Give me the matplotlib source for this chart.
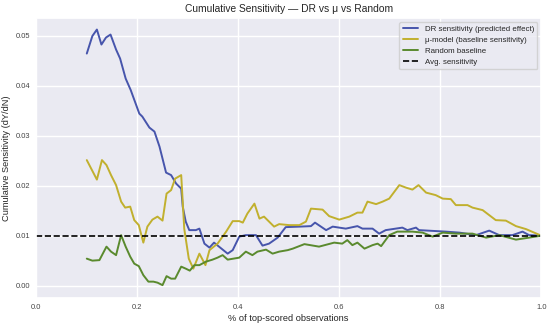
import numpy as np
import matplotlib
matplotlib.use("Agg")
import matplotlib.pyplot as plt
import seaborn as sns

# values
dr_x = [0.10, 0.111, 0.12, 0.129, 0.138, 0.147, 0.158, 0.166, 0.177, 0.187, 0.204, 0.21, 0.224,
        0.234, 0.244, 0.257, 0.267, 0.277, 0.287, 0.29, 0.296, 0.303, 0.316, 0.323, 0.333, 0.343,
        0.352, 0.379, 0.389, 0.402, 0.415, 0.435, 0.448, 0.461, 0.478, 0.494, 0.521, 0.544, 0.552,
        0.574, 0.587, 0.613, 0.636, 0.646, 0.666, 0.679, 0.692, 0.725, 0.735, 0.752, 0.758, 0.811,
        0.838, 0.871, 0.897, 0.917, 0.943, 0.963, 0.976, 1.0]
dr_y = [0.0464, 0.0499, 0.0512, 0.0482, 0.0496, 0.0502, 0.0472, 0.0454, 0.0414, 0.0391, 0.0344,
        0.0338, 0.0316, 0.0308, 0.0278, 0.0226, 0.0221, 0.0204, 0.0194, 0.0158, 0.0128, 0.0111,
        0.0111, 0.0114, 0.0084, 0.0076, 0.0086, 0.0064, 0.0071, 0.0098, 0.0101, 0.0101, 0.0080,
        0.0084, 0.0096, 0.0117, 0.0118, 0.0119, 0.0126, 0.0111, 0.0118, 0.0114, 0.0119, 0.0114,
        0.0114, 0.0104, 0.0111, 0.0116, 0.0111, 0.0116, 0.0111, 0.0108, 0.0106, 0.0101, 0.0110,
        0.0101, 0.0101, 0.0108, 0.0101, 0.0100]

mu_x = [0.10, 0.12, 0.13, 0.139, 0.148, 0.158, 0.168, 0.176, 0.186, 0.194, 0.203, 0.212, 0.22,
        0.23, 0.24, 0.25, 0.258, 0.267, 0.275, 0.287, 0.293, 0.302, 0.311, 0.323, 0.335, 0.343,
        0.359, 0.376, 0.389, 0.402, 0.409, 0.418, 0.432, 0.442, 0.451, 0.471, 0.481, 0.501, 0.521,
        0.534, 0.544, 0.567, 0.58, 0.60, 0.62, 0.636, 0.646, 0.656, 0.673, 0.686, 0.699, 0.719,
        0.732, 0.745, 0.757, 0.772, 0.791, 0.805, 0.821, 0.831, 0.854, 0.864, 0.884, 0.91, 0.93,
        0.95, 0.97, 1.0]
mu_y = [0.0251, 0.0212, 0.0251, 0.0241, 0.0221, 0.0201, 0.0168, 0.0156, 0.0158, 0.0131, 0.0121,
        0.0086, 0.0118, 0.0132, 0.0138, 0.0130, 0.0184, 0.0191, 0.0214, 0.0221, 0.0114, 0.0054,
        0.0034, 0.0064, 0.0041, 0.0071, 0.0084, 0.0108, 0.0129, 0.0129, 0.0126, 0.0144, 0.0164,
        0.0134, 0.0138, 0.0118, 0.0123, 0.0121, 0.0121, 0.0128, 0.0154, 0.0152, 0.0139, 0.0132,
        0.0138, 0.0146, 0.0146, 0.0168, 0.0163, 0.0168, 0.0174, 0.0201, 0.0196, 0.0192, 0.0201,
        0.0186, 0.0181, 0.0174, 0.0173, 0.0161, 0.0161, 0.0156, 0.0151, 0.0131, 0.0130, 0.0119,
        0.0113, 0.0100]

rnd_x = [0.10, 0.111, 0.125, 0.139, 0.148, 0.158, 0.168, 0.177, 0.186, 0.194, 0.203, 0.212,
         0.222, 0.232, 0.24, 0.25, 0.258, 0.267, 0.275, 0.287, 0.296, 0.304, 0.313, 0.323, 0.336,
         0.349, 0.359, 0.369, 0.379, 0.402, 0.415, 0.428, 0.438, 0.455, 0.468, 0.481, 0.498,
         0.508, 0.531, 0.56, 0.59, 0.606, 0.616, 0.626, 0.636, 0.65, 0.666, 0.676, 0.683, 0.699,
         0.715, 0.745, 0.765, 0.785, 0.805, 0.831, 0.864, 0.891, 0.917, 0.95, 0.976, 1.0]
rnd_y = [0.0054, 0.0050, 0.0051, 0.0078, 0.0068, 0.0061, 0.0101, 0.0078, 0.0058, 0.0044, 0.0039,
         0.0021, 0.0008, 0.0008, 0.0006, 0.0001, 0.0019, 0.0014, 0.0014, 0.0038, 0.0034, 0.0030,
         0.0041, 0.0041, 0.0048, 0.0052, 0.0056, 0.0061, 0.0052, 0.0056, 0.0068, 0.0061, 0.0068,
         0.0072, 0.0064, 0.0068, 0.0071, 0.0074, 0.0083, 0.0078, 0.0086, 0.0084, 0.0091, 0.0081,
         0.0086, 0.0074, 0.0081, 0.0084, 0.0079, 0.0101, 0.0108, 0.0108, 0.0106, 0.0098, 0.0106,
         0.0104, 0.0104, 0.0096, 0.0101, 0.0092, 0.0096, 0.0100]

avg_sens = 0.01

sns.set_theme(style="darkgrid")
plt.rcParams['font.family'] = ['Liberation Sans', 'DejaVu Sans']

fig = plt.figure(figsize=(5.5, 3.28), dpi=100)
ax = fig.add_axes([0.066, 0.091, 0.918, 0.854])

ax.plot(dr_x, dr_y, color='#4755AC', lw=1.4, label='DR sensitivity (predicted effect)')
ax.plot(mu_x, mu_y, color='#C1B02E', lw=1.4, label='μ-model (baseline sensitivity)')
ax.plot(rnd_x, rnd_y, color='#5A8A2E', lw=1.4, label='Random baseline')
ax.axhline(avg_sens, color='black', ls='--', lw=1.2, label='Avg. sensitivity')

ax.set_xlim(0, 1.0)
ax.set_ylim(-0.0025, 0.0535)
ax.set_xticks(np.arange(0, 1.01, 0.2))
ax.set_yticks(np.arange(0, 0.051, 0.01))
ax.xaxis.set_major_formatter(matplotlib.ticker.FormatStrFormatter('%.1f'))
ax.yaxis.set_major_formatter(matplotlib.ticker.FormatStrFormatter('%.2f'))
ax.tick_params(labelsize=5.4, colors='#444444', length=0, pad=4.5)

ax.set_title('Cumulative Sensitivity — DR vs μ vs Random', fontsize=7.4, pad=4)
ax.set_xlabel('% of top-scored observations', fontsize=6.7, labelpad=2)
ax.set_ylabel('Cumulative Sensitivity (dY/dN)', fontsize=6.7, labelpad=3)

ax.legend(loc='upper right', fontsize=5.7, frameon=True, handlelength=2, labelspacing=0.45)

fig.savefig('out.png', dpi=100)
